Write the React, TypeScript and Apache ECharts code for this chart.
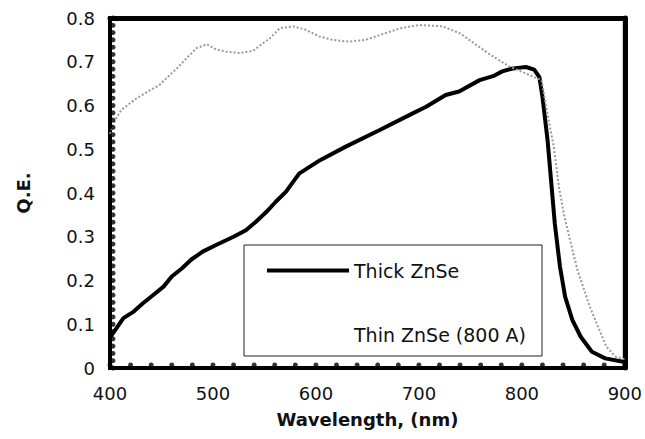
import React, { useEffect, useRef } from "react";
import * as echarts from "echarts";

const xTicks = [400, 500, 600, 700, 800, 900];
const yTicks = [0, 0.1, 0.2, 0.3, 0.4, 0.5, 0.6, 0.7, 0.8];
const xMinorStep = 20;
const yMinorSplit = 6;

const thickName = "Thick ZnSe";
const thinName = "Thin ZnSe (800 A)";

const thickWl = [400, 404, 413, 423, 432, 442, 452, 460, 470, 479, 490, 503, 520, 532, 542, 552, 561, 571, 578, 584, 604, 629, 662, 694, 707, 726, 739, 759, 772, 781, 790, 796, 804, 812, 817, 820, 825, 832, 837, 842, 849, 857, 868, 881, 897, 900];
const thickQE = [0.07, 0.083, 0.114, 0.129, 0.148, 0.167, 0.186, 0.209, 0.228, 0.248, 0.266, 0.281, 0.3, 0.315, 0.335, 0.357, 0.38, 0.403, 0.426, 0.445, 0.475, 0.506, 0.544, 0.582, 0.597, 0.624, 0.632, 0.658, 0.667, 0.678, 0.684, 0.686, 0.688, 0.682, 0.665, 0.62, 0.52, 0.33, 0.232, 0.163, 0.11, 0.072, 0.037, 0.022, 0.015, 0.014];

const thinWl = [400, 405, 411, 425, 439, 448, 460, 465, 476, 484, 494, 503, 513, 526, 539, 549, 555, 565, 578, 590, 603, 616, 632, 648, 662, 681, 700, 723, 740, 756, 772, 788, 804, 819, 826, 831, 836, 841, 846, 854, 866, 874, 882, 891, 900];
const thinQE = [0.535, 0.567, 0.59, 0.615, 0.635, 0.647, 0.674, 0.685, 0.712, 0.731, 0.74, 0.728, 0.723, 0.72, 0.725, 0.743, 0.753, 0.777, 0.781, 0.773, 0.758, 0.75, 0.746, 0.75, 0.761, 0.776, 0.784, 0.781, 0.765, 0.738, 0.712, 0.689, 0.673, 0.658, 0.567, 0.506, 0.414, 0.35, 0.3, 0.224, 0.14, 0.094, 0.049, 0.026, 0.02];

const FONT = "DejaVu Sans";

export default function App() {
  const ref = useRef<HTMLDivElement>(null);
  useEffect(() => {
    if (!ref.current) return;
    const chart = echarts.init(ref.current, null, { renderer: "svg" });
    const thickData = thickWl.map((w, i) => [w, thickQE[i]]);
    const thinData = thinWl.map((w, i) => [w, thinQE[i]]);
    const xMin = xTicks[0];
    const xMax = xTicks[xTicks.length - 1];
    const yMin = yTicks[0];
    const yMax = yTicks[yTicks.length - 1];
    const xTickMarks: number[][] = [];
    for (let i = 0; i < xTicks.length - 1; i++) {
      for (let v = xTicks[i]; v < xTicks[i + 1]; v += xMinorStep) xTickMarks.push([v, yMin]);
    }
    xTickMarks.push([xMax, yMin]);
    const yTickMarks: number[][] = [];
    for (let i = 0; i < yTicks.length - 1; i++) {
      const step = (yTicks[i + 1] - yTicks[i]) / yMinorSplit;
      for (let k = 0; k < yMinorSplit; k++) yTickMarks.push([xMin, yTicks[i] + k * step]);
    }
    yTickMarks.push([xMin, yMax]);

    chart.setOption({
      animation: false,
      backgroundColor: "#fff",
      grid: {
        left: 110,
        right: 19,
        top: 18,
        bottom: 71,
        show: true,
        borderColor: "#000",
        borderWidth: 4,
        backgroundColor: "transparent",
      },
      graphic: [
        {
          type: "rect",
          shape: { x: 244, y: 245, width: 298, height: 111 },
          style: { fill: "none", stroke: "#222", lineWidth: 1 },
        },
      ],
      legend: {
        orient: "vertical",
        left: 267,
        top: 261,
        padding: 0,
        itemWidth: 82,
        itemHeight: 14,
        itemGap: 45,
        textStyle: { fontFamily: FONT, fontSize: 19, color: "#111" },
        data: [
          { name: thickName, icon: "path://M0,5 L82,5 L82,9 L0,9 Z", itemStyle: { color: "#000" } },
          { name: thinName, icon: "path://M0,5 L82,5 L82,9 L0,9 Z", itemStyle: { color: "#fff", opacity: 0 } },
        ],
      },
      xAxis: [
        {
          type: "value",
          min: xMin,
          max: xMax,
          interval: 100,
          position: "bottom",
          name: "Wavelength, (nm)",
          nameLocation: "middle",
          nameGap: 42,
          nameTextStyle: { fontFamily: FONT, fontSize: 18, fontWeight: "bold", color: "#111" },
          axisLine: { show: true, onZero: false, lineStyle: { color: "#000", width: 4 } },
          axisTick: { show: false },
          axisLabel: { margin: 16, fontFamily: FONT, fontSize: 18, color: "#111" },
          splitLine: { show: false },
        },
        {
          type: "value",
          min: xMin,
          max: xMax,
          position: "top",
          axisLine: { show: true, onZero: false, lineStyle: { color: "#000", width: 5 } },
          axisTick: { show: false },
          axisLabel: { show: false },
          splitLine: { show: false },
        },
      ],
      yAxis: [
        {
          type: "value",
          min: yMin,
          max: yMax,
          interval: 0.1,
          position: "left",
          name: "Q.E.",
          nameLocation: "middle",
          nameGap: 78,
          nameTextStyle: { fontFamily: FONT, fontSize: 18, fontWeight: "bold", color: "#111" },
          axisLine: { show: true, onZero: false, lineStyle: { color: "#000", width: 4 } },
          axisTick: { show: false },
          axisLabel: {
            margin: 15,
            fontFamily: FONT,
            fontSize: 18,
            color: "#111",
            formatter: (v: number) => (Math.abs(v) < 1e-9 ? "0" : v.toFixed(1)),
          },
          splitLine: { show: false },
        },
        {
          type: "value",
          min: yMin,
          max: yMax,
          interval: 0.1,
          position: "right",
          axisLine: { show: true, onZero: false, lineStyle: { color: "#000", width: 5 } },
          axisTick: { show: false },
          axisLabel: { show: false },
          splitLine: { show: false },
        },
      ],
      series: [
        {
          name: thickName,
          type: "line",
          data: thickData,
          showSymbol: false,
          lineStyle: { color: "#000", width: 4 },
          itemStyle: { color: "#000" },
        },
        {
          name: thinName,
          type: "line",
          data: thinData,
          showSymbol: false,
          lineStyle: { color: "#999", width: 2, type: "dotted" },
          itemStyle: { color: "#999" },
        },
        {
          name: "xTickMarks",
          type: "scatter",
          data: xTickMarks,
          symbol: "circle",
          symbolSize: 5,
          symbolOffset: [0, -3],
          clip: false,
          silent: true,
          itemStyle: { color: "#000" },
          z: 4,
        },
        {
          name: "yTickMarks",
          type: "scatter",
          data: yTickMarks,
          symbol: "circle",
          symbolSize: 5,
          symbolOffset: [3, 0],
          clip: false,
          silent: true,
          itemStyle: { color: "#000" },
          z: 4,
        },
      ],
    });
    return () => chart.dispose();
  }, []);
  return (
    <div style={{ position: "fixed", left: 0, top: 0, width: 645, height: 439, background: "#fff" }}>
      <div ref={ref} style={{ width: 645, height: 439 }} />
    </div>
  );
}
